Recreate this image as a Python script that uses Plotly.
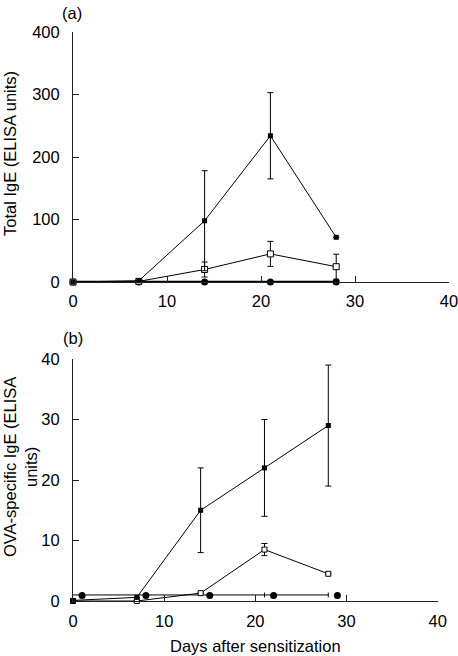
import plotly.graph_objects as go

days = [0, 7, 14, 21, 28]

# Panel (a): Total IgE
a_filled = [0, 2, 98, 234, 71.5]
a_filled_err = [0, 0, 80, 69, 0]
a_open = [0, 1, 20, 45, 24.5]
a_open_err = [0, 0, 12, 20, 20]
a_circle = [0, 0, 0, 0, 0]

# Panel (b): OVA-specific IgE
b_filled = [0.1, 0.6, 15, 22, 29]
b_filled_err = [0, 0, 7, 8, 10]
b_open = [0, 0, 1.3, 8.5, 4.5]
b_open_err = [0, 0, 0, 1, 0]
b_circle_line = [1, 1, 1, 1, 1]
b_circle_line_err = [0, 0, 0, 0.4, 0.4]
b_circle_days = [1, 8, 15, 22, 29]
b_circle = [0.9, 0.9, 0.9, 0.9, 0.9]

xticks = [0, 10, 20, 30, 40]
a_yticks = [0, 100, 200, 300, 400]
b_yticks = [0, 10, 20, 30, 40]

FONT = "Liberation Sans, Arial, sans-serif"
BLK = "#000000"
W, H = 458, 656
FS = 16.5

fig = go.Figure()

def err(arr, show=True):
    return dict(type="data", array=arr, visible=show, color=BLK, thickness=1, width=3)

# panel a
fig.add_trace(go.Scatter(x=days, y=a_circle, mode="lines+markers", xaxis="x", yaxis="y",
                         line=dict(color=BLK, width=2.5),
                         marker=dict(symbol="circle", size=7, color=BLK), cliponaxis=False))
fig.add_trace(go.Scatter(x=days, y=a_open, mode="lines+markers", xaxis="x", yaxis="y",
                         line=dict(color=BLK, width=1), error_y=err(a_open_err),
                         marker=dict(symbol="square", size=6, color="white",
                                     line=dict(color=BLK, width=1)), cliponaxis=False))
fig.add_trace(go.Scatter(x=days, y=a_filled, mode="lines+markers", xaxis="x", yaxis="y",
                         line=dict(color=BLK, width=1), error_y=err(a_filled_err),
                         marker=dict(symbol="square", size=5, color=BLK), cliponaxis=False))

# panel b
fig.add_trace(go.Scatter(x=days, y=b_circle_line, mode="lines", xaxis="x2", yaxis="y2",
                         line=dict(color=BLK, width=1),
                         error_y=dict(type="data", array=b_circle_line_err, color=BLK,
                                      thickness=1, width=0), cliponaxis=False))
fig.add_trace(go.Scatter(x=b_circle_days, y=b_circle, mode="markers", xaxis="x2", yaxis="y2",
                         marker=dict(symbol="circle", size=7, color=BLK), cliponaxis=False))
fig.add_trace(go.Scatter(x=days, y=b_open, mode="lines+markers", xaxis="x2", yaxis="y2",
                         line=dict(color=BLK, width=1), error_y=err(b_open_err),
                         marker=dict(symbol="square", size=5, color="white",
                                     line=dict(color=BLK, width=1)), cliponaxis=False))
fig.add_trace(go.Scatter(x=days, y=b_filled, mode="lines+markers", xaxis="x2", yaxis="y2",
                         line=dict(color=BLK, width=1), error_y=err(b_filled_err),
                         marker=dict(symbol="square", size=5, color=BLK), cliponaxis=False))

axis_common = dict(showline=True, linecolor="#222222", linewidth=1, ticks="inside",
                   ticklen=6, tickcolor="#222222", tickwidth=1, showgrid=False,
                   zeroline=False, automargin=False, ticklabeloverflow="allow",
                   tickfont=dict(family=FONT, size=FS, color=BLK))

fig.update_layout(
    width=W, height=H, autosize=False,
    margin=dict(l=0, r=0, t=0, b=0, autoexpand=False),
    paper_bgcolor="white", plot_bgcolor="white", showlegend=False,
    font=dict(family=FONT, size=FS, color=BLK),
    xaxis=dict(domain=[73 / W, 449 / W], range=[0, 40], tickvals=xticks, anchor="y",
               ticklabelstandoff=4, **axis_common),
    yaxis=dict(domain=[1 - 282 / H, 1 - 32 / H], range=[0, 400], tickvals=a_yticks,
               anchor="x", ticklabelstandoff=9, **axis_common),
    xaxis2=dict(domain=[73 / W, 437.7 / W], range=[0, 40], tickvals=xticks, anchor="y2",
                ticklabelstandoff=5, **axis_common),
    yaxis2=dict(domain=[1 - 601 / H, 1 - 359 / H], range=[0, 40], tickvals=b_yticks,
                anchor="x2", ticklabelstandoff=9, **axis_common),
    annotations=[
        dict(text="(a)", x=72 / W, y=1 - 13 / H, xref="paper", yref="paper",
             showarrow=False, xanchor="center", yanchor="middle", font=dict(size=FS)),
        dict(text="(b)", x=73 / W, y=1 - 338 / H, xref="paper", yref="paper",
             showarrow=False, xanchor="center", yanchor="middle", font=dict(size=FS)),
        dict(text="Total IgE (ELISA units)", x=10 / W, y=1 - 154 / H, xref="paper",
             yref="paper", showarrow=False, textangle=-90, xanchor="center",
             yanchor="middle", font=dict(size=FS)),
        dict(text="OVA-specific IgE (ELISA<br>units)", x=20 / W, y=1 - 467 / H,
             xref="paper", yref="paper", showarrow=False, textangle=-90,
             xanchor="center", yanchor="middle", font=dict(size=FS)),
        dict(text="Days after sensitization", x=255 / W, y=1 - 646 / H, xref="paper",
             yref="paper", showarrow=False, xanchor="center", yanchor="middle",
             font=dict(size=FS)),
    ],
)

fig.write_html("out.html", config={"responsive": False, "displayModeBar": False},
               post_script="document.body.style.margin='0';document.body.style.overflow='hidden';")
